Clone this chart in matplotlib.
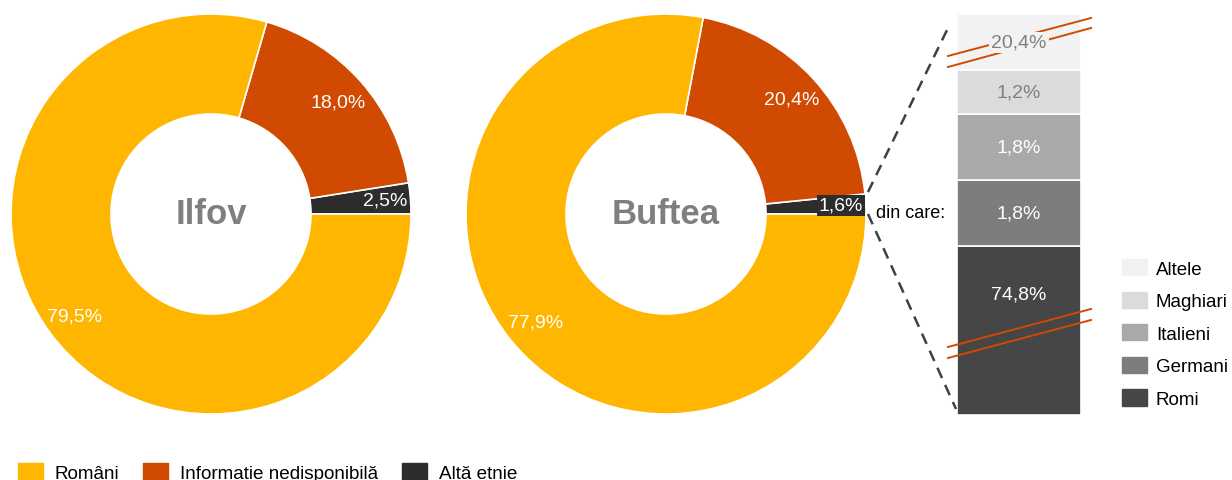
import matplotlib
matplotlib.use("Agg")
import matplotlib.pyplot as plt
from matplotlib.patches import Patch
import numpy as np

plt.rcParams['font.family'] = ['Liberation Sans', 'DejaVu Sans']

# data
groups = ['Altă etnie', 'Informație nedisponibilă', 'Români']
ilfov = [2.5, 18.0, 79.5]
buftea = [1.6, 20.4, 77.9]
pie_colors = ['#2d2d2d', '#d04a02', '#ffb600']

ethnic = ['Romi', 'Germani', 'Italieni', 'Maghiari', 'Altele']
ethnic_vals = [74.8, 1.8, 1.8, 1.2, 20.4]
ethnic_colors = ['#464646', '#7d7d7d', '#a9a9a9', '#dbdbdb', '#f2f2f2']
# broken segments are drawn shorter than their value
cut_heights = {'Romi': 4.62, 'Altele': 1.53}

W, H = 1232, 481
fig = plt.figure(figsize=(W / 100, H / 100), dpi=100)
ax = fig.add_axes([0, 0, 1, 1])

def py(y):
    return H - y

def pct(v):
    return f"{v:.1f}%".replace('.', ',')

def donut(vals, cx, cy, name, small_box=False):
    wedges, _ = ax.pie(vals, colors=pie_colors, startangle=0, counterclock=True,
                       radius=200, center=(cx, py(cy)),
                       wedgeprops=dict(width=100, edgecolor='white', linewidth=1.2))
    for w, v in zip(wedges, vals):
        mid = np.deg2rad((w.theta1 + w.theta2) / 2)
        r = 175 if v < 5 else 170
        x = cx + r * np.cos(mid)
        y = py(cy) + r * np.sin(mid)
        box = None
        if v < 5 and small_box:
            box = dict(boxstyle='square,pad=0.1', fc='#2d2d2d', ec='none')
        ax.text(x, y, pct(v), ha='center', va='center', color='white',
                fontsize=14, bbox=box)
    ax.text(cx, py(cy), name, ha='center', va='center', fontsize=25,
            fontweight='bold', color='#7f7f7f')
    return wedges

donut(ilfov, 211, 215, 'Ilfov')
donut(buftea, 666, 215, 'Buftea', small_box=True)

# stacked bar
scale = 36.6
bx, bw = 1019, 124
bottom = py(416)
for name, v, c in zip(ethnic, ethnic_vals, ethnic_colors):
    h = cut_heights.get(name, v) * scale
    ax.bar(bx, h, width=bw, bottom=bottom, color=c, edgecolor='white', linewidth=1.2)
    tcol = '#7f7f7f' if name in ('Maghiari', 'Altele') else 'white'
    ty = bottom + h / 2
    if name == 'Romi':
        ty = bottom + h - 48
    box = dict(boxstyle='square,pad=0.1', fc='#f2f2f2', ec='none') if name == 'Altele' else None
    ax.text(bx, ty, pct(v), ha='center', va='center', color=tcol, fontsize=14,
            bbox=box, zorder=6)
    bottom += h

# break marks
for y0, y1 in [(57, 19), (68, 29), (348, 310), (359, 321)]:
    ax.plot([948, 1091], [py(y0), py(y1)], color='#d04a02', lw=1.4, zorder=5)

# connector lines
ax.plot([868, 948], [py(193), py(29)], color='#404040', lw=1.8, ls=(0, (4.5, 3)))
ax.plot([868, 956], [py(215), py(410)], color='#404040', lw=1.8, ls=(0, (4.5, 3)))
ax.text(876, py(214), 'din care:', ha='left', va='center', fontsize=13, color='black')

ax.set_xlim(0, W)
ax.set_ylim(0, H)
ax.set_aspect('equal')
ax.axis('off')

# legends
right = [Patch(color=c, label=n) for n, c in zip(ethnic, ethnic_colors)][::-1]
leg1 = ax.legend(handles=right, loc='upper left', bbox_to_anchor=(1122 / W, py(260) / H),
                 frameon=False, fontsize=13.5, handlelength=1.35, handleheight=0.95,
                 labelspacing=0.75, handletextpad=0.45, borderpad=0, borderaxespad=0)
ax.add_artist(leg1)

bottom_handles = [Patch(color=c, label=g) for g, c in zip(groups, pie_colors)][::-1]
ax.legend(handles=bottom_handles, loc='lower left', bbox_to_anchor=(18 / W, -2 / H),
          ncol=3, frameon=False, fontsize=13.6, handlelength=1.32, handleheight=0.95,
          handletextpad=0.63, columnspacing=1.27, borderpad=0, borderaxespad=0)

fig.savefig('out.png', dpi=100)
